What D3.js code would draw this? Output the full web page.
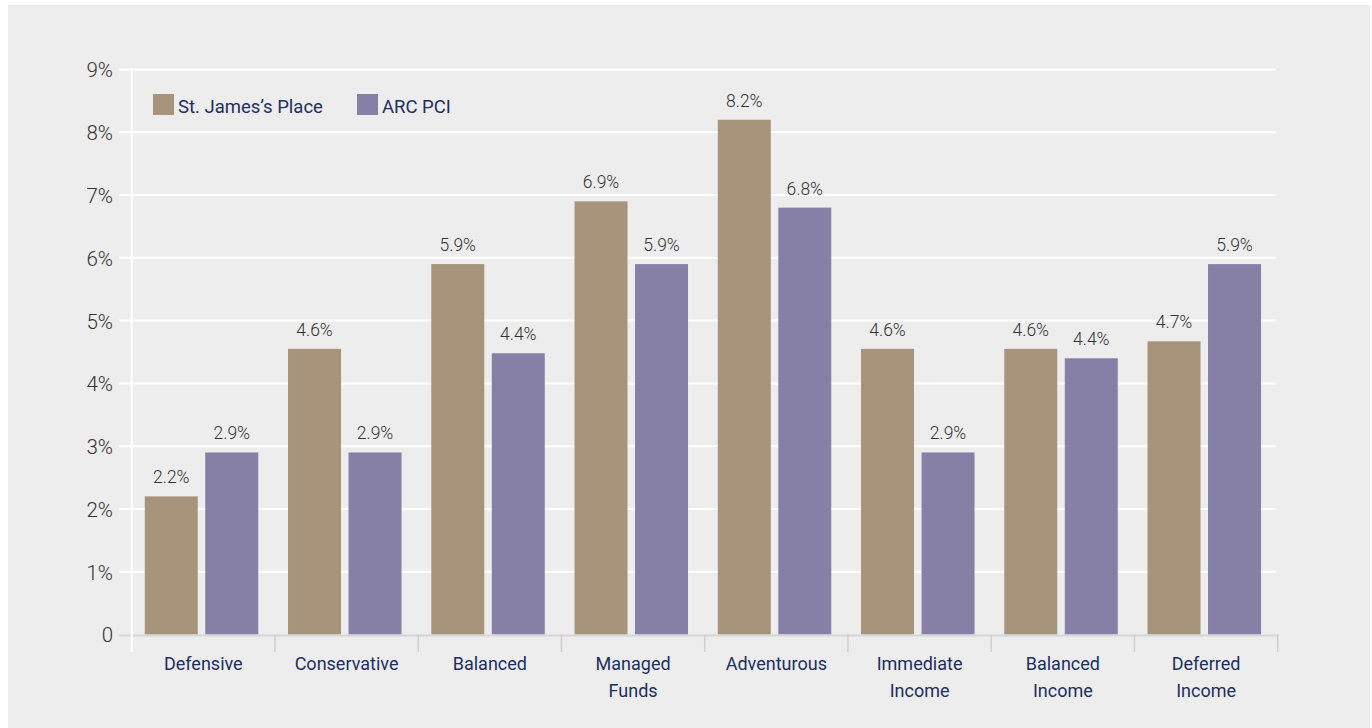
<!DOCTYPE html>
<html lang="en">
<head>
<meta charset="utf-8">
<title>St. James's Place vs ARC PCI</title>
<script src="https://d3js.org/d3.v7.min.js"></script>
<style>
  body { margin: 0; background: #fff; }
  svg { display: block; font-family: Roboto, "Noto Sans", sans-serif; }
  .xlab { font-size: 18px; fill: #1c2f5e; }
  .val { font-size: 17.5px; font-weight: 300; fill: #333; }
  .leg { font-size: 18.5px; fill: #1c2f5e; }
</style>
</head>
<body>
<svg width="1372" height="728"></svg>
<script>
// data
const categories = [["Defensive"], ["Conservative"], ["Balanced"], ["Managed", "Funds"], ["Adventurous"],
                    ["Immediate", "Income"], ["Balanced", "Income"], ["Deferred", "Income"]];
const seriesNames = ["St. James\u2019s Place", "ARC PCI"];
const sjpValues = [2.2, 4.55, 5.9, 6.9, 8.2, 4.55, 4.55, 4.67];
const arcValues = [2.9, 2.9, 4.48, 5.9, 6.8, 2.9, 4.4, 5.9];
const sjpLabels = ["2.2%", "4.6%", "5.9%", "6.9%", "8.2%", "4.6%", "4.6%", "4.7%"];
const arcLabels = ["2.9%", "2.9%", "4.4%", "5.9%", "6.8%", "2.9%", "4.4%", "5.9%"];
const yTicks = [0, 1, 2, 3, 4, 5, 6, 7, 8, 9];
const colors = ["#a8947a", "#8780a6"];

const svg = d3.select("svg");
svg.append("rect").attr("x", 8).attr("y", 5).attr("width", 1362).attr("height", 723).attr("fill", "#ededed");

const left = 131.7, right = 1277.7, y0 = 634.5, yTop = 69.5;
const x = d3.scaleBand().domain(d3.range(categories.length)).range([left, right]);
const y = d3.scaleLinear().domain([0, 9]).range([y0, yTop]);
const barW = 53, gap = 7.5, shift = -1.8;

// grid
svg.append("g").selectAll("line").data(yTicks.filter(d => d > 0)).join("line")
  .attr("x1", 119).attr("x2", 1276)
  .attr("y1", d => y(d)).attr("y2", d => y(d))
  .attr("stroke", "#fff").attr("stroke-width", 2);

// y axis labels
const yAxis = svg.append("g")
  .attr("transform", "translate(" + 113 + ",0)")
  .call(d3.axisLeft(y).tickValues(yTicks).tickSize(0).tickPadding(0).tickFormat(d => d === 0 ? "0" : d + "%"));
yAxis.select(".domain").remove();
yAxis.selectAll("text").attr("dy", "0.36em").style("font-family", "Roboto, sans-serif")
  .style("font-size", "20.5px").style("font-weight", 300).attr("fill", "#333");

// bars
const groups = [sjpValues, arcValues];
const labelSets = [sjpLabels, arcLabels];
groups.forEach((vals, s) => {
  const off = (s === 0 ? -gap / 2 - barW : gap / 2) + shift;
  svg.append("g").selectAll("rect").data(vals).join("rect")
    .attr("x", (d, i) => x(i) + x.bandwidth() / 2 + off)
    .attr("y", d => y(d))
    .attr("width", barW)
    .attr("height", d => y0 - y(d))
    .attr("fill", colors[s]);
  svg.append("g").selectAll("text").data(vals).join("text")
    .attr("class", "val")
    .attr("x", (d, i) => x(i) + x.bandwidth() / 2 + off + barW / 2)
    .attr("y", d => y(d) - 13)
    .attr("text-anchor", "middle")
    .text((d, i) => labelSets[s][i]);
});

// baseline and category ticks
svg.append("line").attr("x1", 119).attr("x2", right + 1).attr("y1", y0 + 1).attr("y2", y0 + 1)
  .attr("stroke", "#d6d6d6").attr("stroke-width", 2);
svg.append("g").selectAll("line").data(d3.range(1, categories.length + 1)).join("line")
  .attr("x1", i => i < categories.length ? x(i) : right).attr("x2", i => i < categories.length ? x(i) : right)
  .attr("y1", y0).attr("y2", 652)
  .attr("stroke", "#cfcfcf").attr("stroke-width", 1.5);
svg.append("line").attr("x1", left).attr("x2", left).attr("y1", yTop - 1).attr("y2", 652)
  .attr("stroke", "#fff").attr("stroke-width", 2);

// category labels
const xl = svg.append("g").selectAll("text").data(categories).join("text")
  .attr("class", "xlab")
  .attr("x", (d, i) => x(i) + x.bandwidth() / 2)
  .attr("y", 670)
  .attr("text-anchor", "middle");
xl.selectAll("tspan").data(d => d).join("tspan")
  .attr("x", function() { return this.parentNode.getAttribute("x"); })
  .attr("dy", (d, j) => j === 0 ? 0 : 27)
  .text(d => d);

// legend
const legX = [153, 357];
seriesNames.forEach((n, s) => {
  svg.append("rect").attr("x", legX[s]).attr("y", 94).attr("width", 21).attr("height", 21).attr("fill", colors[s]);
  svg.append("text").attr("class", "leg").attr("x", legX[s] + 25).attr("y", 113).text(n);
});
</script>
</body>
</html>
